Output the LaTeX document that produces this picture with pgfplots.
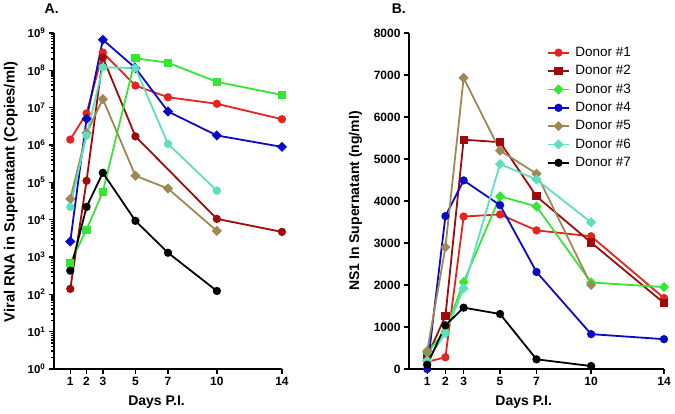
\documentclass[border=0pt]{standalone}
\usepackage{pgfplots}
\pgfplotsset{compat=1.18}
\usepackage{fontspec}
\setmainfont{Liberation Sans}
\definecolor{d1}{HTML}{E5231F}
\definecolor{d2}{HTML}{A00A0A}
\definecolor{d3}{HTML}{35E635}
\definecolor{d4}{HTML}{0A0AC8}
\definecolor{d5}{HTML}{9C8A55}
\definecolor{d6}{HTML}{5EE0BE}
\definecolor{d7}{HTML}{000000}
\pgfplotsset{
  prism/.style={
    scale only axis,
    axis x line=bottom, axis y line=left,
    axis line style={-, line width=1.6pt, black},
    tick style={line width=1.4pt, black},
    tick align=outside, major tick length=5pt,
    xmin=0, xmax=14, xtick={1,2,3,5,7,10,14},
    clip=false,
    /pgf/number format/assume math mode=true,
    /pgf/number format/1000 sep={},
    tick label style={font=\bfseries\fontsize{12}{14}\selectfont},
    label style={font=\bfseries\fontsize{14}{16}\selectfont},
    every axis plot/.append style={line width=1.8pt, mark size=3.2pt},
    xlabel={Days P.I.},
    x label style={at={(axis description cs:0.45,-0.1)}, anchor=center},
  },
  dia/.style={mark=square*, mark size=2.7pt, mark options={solid, rotate=45, fill=#1}},
  pd1/.style={color=d1, mark=*, mark options={solid, fill=d1}},
  pd2/.style={color=d2, mark=square*, mark options={solid, fill=d2}},
  pd3/.style={color=d3, dia=d3},
  pd4/.style={color=d4, mark=*, mark options={solid, fill=d4}},
  pd5/.style={color=d5, dia=d5},
  pd6/.style={color=d6, dia=d6},
  pd7/.style={color=d7, mark=*, mark options={solid, fill=d7}},
}
\begin{document}
\begin{tikzpicture}
\path (0pt,0pt) rectangle (675pt,414pt);
\begin{axis}[prism,
  at={(54pt,45pt)}, anchor=south west,
  width=228pt, height=336pt,
  ymode=log, ymin=1, ymax=1e9,
  ytick={1,10,100,1000,10000,100000,1000000,10000000,100000000,1000000000},
  minor ytick={},
  yticklabels={10\textsuperscript{0},10\textsuperscript{1},10\textsuperscript{2},10\textsuperscript{3},10\textsuperscript{4},10\textsuperscript{5},10\textsuperscript{6},10\textsuperscript{7},10\textsuperscript{8},10\textsuperscript{9}},
  y tick label style={font=\bfseries\fontsize{11.5}{13}\selectfont},
  ylabel={Viral RNA in Supernatant (Copies/ml)},
  y label style={at={(axis description cs:-0.19,0.527)}, anchor=center, font=\bfseries\fontsize{14.8}{17}\selectfont},
  title={A.}, title style={at={(axis description cs:-0.01,1.03)}, anchor=south, font=\bfseries\fontsize{14}{16}\selectfont},
]
\addplot[pd1] coordinates {(1,1.4e6)(2,7e6)(3,3e8)(5,3.9e7)(7,1.9e7)(10,1.27e7)(14,4.9e6)};
\addplot[pd2, mark=*] coordinates {(1,140)(2,1.1e5)(3,2.2e8)(5,1.7e6)(10,1.05e4)(14,4.7e3)};
\addplot[pd3, mark=square*, mark size=3.2pt, mark options={solid, rotate=0, fill=d3}] coordinates {(1,700)(2,5.4e3)(3,5.6e4)(5,2.1e8)(7,1.6e8)(10,4.9e7)(14,2.2e7)};
\addplot[color=d4, dia=d4] coordinates {(1,2.6e3)(2,5e6)(3,6.6e8)(5,1.15e8)(7,7.9e6)(10,1.8e6)(14,8.9e5)};
\addplot[pd5] coordinates {(1,3.6e4)(2,2.1e6)(3,1.7e7)(5,1.5e5)(7,6.8e4)(10,5e3)};
\addplot[color=d6, mark=*, mark options={solid, fill=d6}] coordinates {(1,2.2e4)(2,1.8e6)(3,1.2e8)(5,1.15e8)(7,1.07e6)(10,6e4)};
\addplot[pd7] coordinates {(1,430)(2,2.2e4)(3,1.8e5)(5,9.3e3)(7,1.3e3)(10,123)};
\end{axis}
\begin{axis}[prism,
  at={(409pt,45pt)}, anchor=south west,
  width=255pt, height=336pt,
  ymin=0, ymax=8000, ytick={0,1000,...,8000},
  ylabel={NS1 In Supernatant (ng/ml)},
  y label style={at={(axis description cs:-0.21,0.5)}, anchor=center, font=\bfseries\fontsize{14}{16}\selectfont},
  title={B.}, title style={at={(axis description cs:-0.04,1.03)}, anchor=south, font=\bfseries\fontsize{14}{16}\selectfont},
  legend style={draw=none, fill=none, at={(axis description cs:0.53,0.97)}, anchor=north west,
    font=\fontsize{13.5}{16}\selectfont, row sep=3.5pt},
  legend cell align=left,
  legend image code/.code={\draw[mark repeat=2,mark phase=2] plot coordinates {(0cm,0cm) (0.36cm,0cm) (0.72cm,0cm)}; \path (0.85cm,0cm);},
]
\addplot[pd1] coordinates {(1,170)(2,280)(3,3630)(5,3680)(7,3300)(10,3160)(14,1690)};
\addplot[pd2] coordinates {(1,300)(2,1260)(3,5460)(5,5400)(7,4110)(10,3010)(14,1570)};
\addplot[pd3] coordinates {(1,400)(2,900)(3,2070)(5,4110)(7,3870)(10,2060)(14,1950)};
\addplot[pd4] coordinates {(1,0)(2,3640)(3,4490)(5,3900)(7,2310)(10,830)(14,710)};
\addplot[pd5] coordinates {(1,430)(2,2900)(3,6930)(5,5200)(7,4650)(10,2000)};
\addplot[pd6] coordinates {(1,200)(2,850)(3,1920)(5,4880)(7,4510)(10,3490)};
\addplot[pd7] coordinates {(1,100)(2,1040)(3,1460)(5,1310)(7,230)(10,70)};
\legend{Donor \#1,Donor \#2,Donor \#3,Donor \#4,Donor \#5,Donor \#6,Donor \#7}
\end{axis}
\end{tikzpicture}
\end{document}
